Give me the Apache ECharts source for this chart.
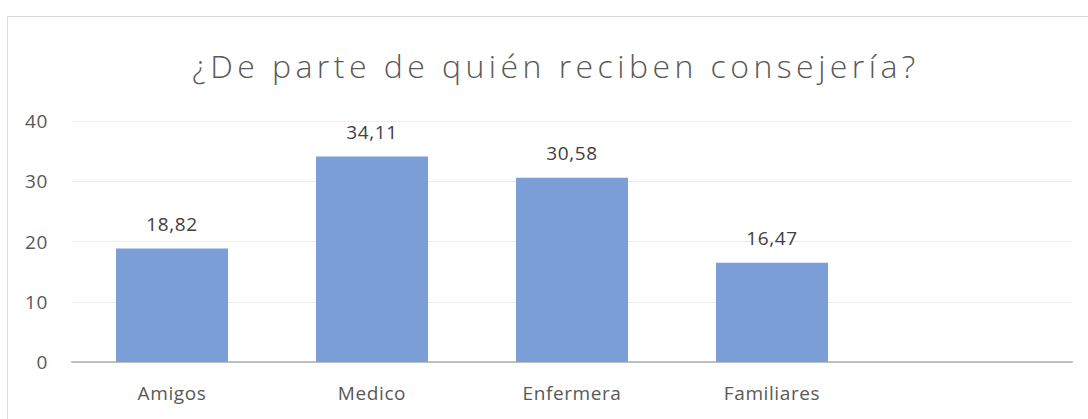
<!DOCTYPE html>
<html><head><meta charset="utf-8">
<style>html,body{margin:0;padding:0;background:#fff}#c{width:1088px;height:419px}</style>
<script src="https://cdn.jsdelivr.net/npm/echarts@6/dist/echarts.min.js"></script>
</head><body><div id="c"></div>
<script>
const categories = ['Amigos', 'Medico', 'Enfermera', 'Familiares', ''];
const values = [18.82, 34.11, 30.58, 16.47, null];
const yTicks = [0, 10, 20, 30, 40];
const titleText = '¿De parte de quién reciben consejería?';

const chart = echarts.init(document.getElementById('c'), null, {renderer: 'svg'});
chart.setOption({
  animation: false,
  backgroundColor: '#ffffff',
  title: {
    text: titleText,
    left: 'center',
    top: 44,
    textStyle: {fontFamily: 'Open Sans', fontWeight: 300, fontSize: 32, color: '#595959'}
  },
  graphic: [{
    type: 'rect', silent: true,
    shape: {x: 7.5, y: 16.5, width: 1100, height: 420},
    style: {fill: 'none', stroke: '#d9d9d9', lineWidth: 1}
  }],
  grid: {left: 72, right: 16, top: 121, bottom: 57, containLabel: false},
  xAxis: {
    type: 'category', data: categories,
    axisLine: {lineStyle: {color: '#bfbfbf', width: 2}},
    axisTick: {show: false},
    axisLabel: {color: '#595959', fontFamily: 'Open Sans', fontSize: 19, margin: 21}
  },
  yAxis: {
    type: 'value', min: yTicks[0], max: yTicks[yTicks.length - 1], interval: 10,
    axisLine: {show: false}, axisTick: {show: false},
    splitLine: {lineStyle: {color: '#ececec', width: 1}},
    axisLabel: {color: '#595959', fontFamily: 'Open Sans', fontSize: 19, margin: 24}
  },
  series: [{
    type: 'bar', data: values, barWidth: '56%',
    itemStyle: {color: '#7b9ed7'},
    label: {
      show: true, position: 'top', distance: 15,
      color: '#404040', fontFamily: 'Open Sans', fontSize: 19,
      formatter: p => p.value == null ? '' : p.value.toFixed(2).replace('.', ',')
    }
  }]
});
function spaceText() {
  document.querySelectorAll('#c svg text').forEach(t => {
    if (t.textContent === titleText) {
      t.style.letterSpacing = '4.45px';
      t.setAttribute('dx', '12');
    } else {
      t.style.letterSpacing = '0.6px';
    }
  });
}
spaceText();
chart.on('finished', spaceText);
</script></body></html>
